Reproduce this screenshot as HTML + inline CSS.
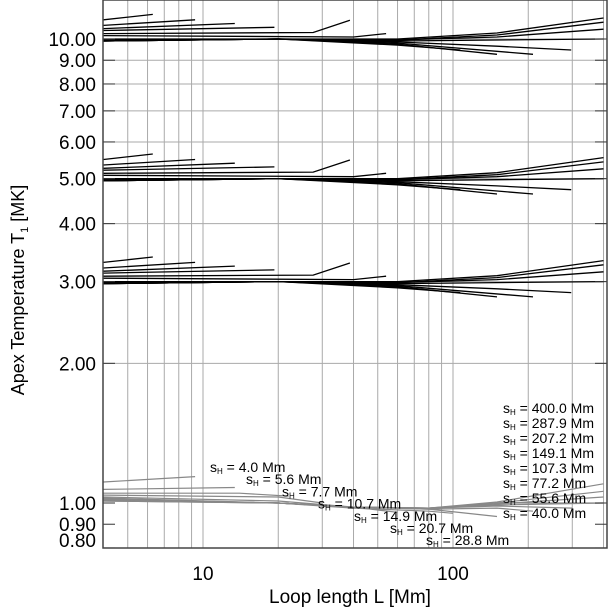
<!DOCTYPE html>
<html><head><meta charset="utf-8"><style>
html,body{margin:0;padding:0;background:#fff}
svg{display:block;font-family:"Liberation Sans",sans-serif}
</style></head><body>
<svg id="chart" width="611" height="610" viewBox="0 0 611 610" xmlns="http://www.w3.org/2000/svg">
<g id="grid"></g>
<g id="curves"></g>
<g id="axes"></g>
<g id="labels"></g>
<text x="350" y="603" font-size="19" text-anchor="middle">Loop length L [Mm]</text>
<text transform="translate(24,290) rotate(-90)" font-size="18" text-anchor="middle">Apex Temperature T<tspan font-size="11" dy="4">1</tspan><tspan dy="-4"> [MK]</tspan></text>
</svg>
<script>
const xTicks=[4,5,6,7,8,9,10,20,30,40,50,60,70,80,90,100,200,300,400];
const xLabels=[10,100];
const yTicks=[0.8,0.9,1,2,3,4,5,6,7,8,9,10];
const yLabels=["0.80","0.90","1.00","2.00","3.00","4.00","5.00","6.00","7.00","8.00","9.00","10.00"];
const blackLevels=[3,5,10];
const blackL=[[4,6.3],[4,9.3],[4,13.4],[4,19.3],[4,27.6,38.7],[4,40,54],[4,20,60,150,400],[4,20,60,150,400],[4,20,60,150,400],[4,20,60,150,400],[4,20,60,150,297],[4,20,60,209],[4,20,60,150],[4,20,60,107]];
const blackR=[[1.10,1.13],[1.07,1.10],[1.053,1.08],[1.043,1.06],[1.027,1.033,1.097],[1.017,1.01,1.027],[1.0,1.0,1.0,1.03,1.11],[0.995,1.0,0.995,1.02,1.087],[0.993,1.0,0.995,1.01,1.05],[0.99,1.0,0.99,0.995,1.0],[0.99,1.0,0.985,0.965,0.947],[0.99,1.0,0.98,0.927],[0.99,1.0,0.975,0.927],[0.99,1.0,0.97,0.947]];
const greyL=[[4,9.3],[4,13.4],[4,14,22],[4,20,30],[4,20,40,60],[4,20,40,80,100],[4,20,40,80,150],[4,20,40,80,150,209],[4,20,40,80,150,300],[4,20,40,80,150,400],[4,20,40,80,150,400],[4,20,40,80,150,400],[4,20,40,80,150,400],[150,400]];
const greyT=[[1.11,1.14],[1.07,1.08],[1.05,1.05,1.035],[1.04,1.03,1.0],[1.03,1.01,0.98,0.955],[1.025,1.0,0.975,0.96,0.95],[1.02,1.0,0.98,0.97,0.935],[1.02,1.0,0.98,0.97,0.975,0.96],[1.015,1.0,0.98,0.975,0.985,0.975],[1.015,1.0,0.98,0.975,0.99,1.0],[1.012,1.0,0.98,0.975,0.995,1.03],[1.01,1.0,0.98,0.975,1.0,1.06],[1.01,1.0,0.98,0.975,1.005,1.1],[1.0,1.0]];
const sLabels=["4.0","5.6","7.7","10.7","14.9","20.7","28.8"];
const sLabelsRight=["400.0","287.9","207.2","149.1","107.3","77.2","55.6","40.0"];

const NS="http://www.w3.org/2000/svg";
const L0=103,R0=607,T0=0,B0=548;
function X(v){return 203+(Math.log10(v)-1)*250;}
function Y(v){return 39+(1-Math.log10(v))*464;}
function mk(tag,attrs,parent){const e=document.createElementNS(NS,tag);for(const k in attrs)e.setAttribute(k,attrs[k]);parent.appendChild(e);return e;}
const grid=document.getElementById('grid'),axes=document.getElementById('axes'),curves=document.getElementById('curves'),labels=document.getElementById('labels');
xTicks.forEach(v=>{const x=X(v);if(x<L0+1||x>R0-1)return;
 const l=mk('line',{x1:x,x2:x,y1:T0,y2:B0,stroke:'#aaa','stroke-width':1},grid);
 
 });
yTicks.forEach((v,i)=>{const y=Y(v);
 if(v>=2){const l=mk('line',{x1:L0,x2:R0,y1:y,y2:y,stroke:'#aaa','stroke-width':1},grid);
 
 }
 mk('line',{x1:L0,x2:L0+12,y1:y,y2:y,stroke:'#333'},axes);
 mk('line',{x1:R0-12,x2:R0,y1:y,y2:y,stroke:'#333'},axes);
 const t=mk('text',{x:96,y:Math.min(y,540)+7,'font-size':19,'text-anchor':'end'},axes);t.textContent=yLabels[i];
 
 });
xLabels.forEach(v=>{const t=mk('text',{x:X(v),y:580,'font-size':19,'text-anchor':'middle'},axes);t.textContent=v;
 
 });
mk('rect',{x:L0,y:T0,width:R0-L0,height:B0-T0,fill:'none',stroke:'#444','stroke-width':1.5},axes);
function pts(Ls,Ts){return Ls.map((l,i)=>X(l).toFixed(1)+','+Y(Ts[i]).toFixed(1)).join(' ');}
blackLevels.forEach(lv=>{blackL.forEach((Ls,j)=>{
 const p=mk('polyline',{points:pts(Ls,blackR[j].map(r=>r*lv)),fill:'none',stroke:'#000','stroke-width':1.3},curves);
 
 });});
greyL.forEach((Ls,j)=>{
 const p=mk('polyline',{points:pts(Ls,greyT[j]),fill:'none',stroke:'#888','stroke-width':1.2},curves);
 
 });
function sLab(x,y,val){const t=mk('text',{x:x,y:y,'font-size':14},labels);
 t.innerHTML='s<tspan font-size="8" dy="2">H</tspan><tspan dy="-2"> = '+val+' Mm</tspan>';
 
 }
sLabels.forEach((v,i)=>sLab(210+i*36,472+i*12.2,v));
sLabelsRight.forEach((v,i)=>sLab(503,413+i*15,v));
</script>
</body></html>
